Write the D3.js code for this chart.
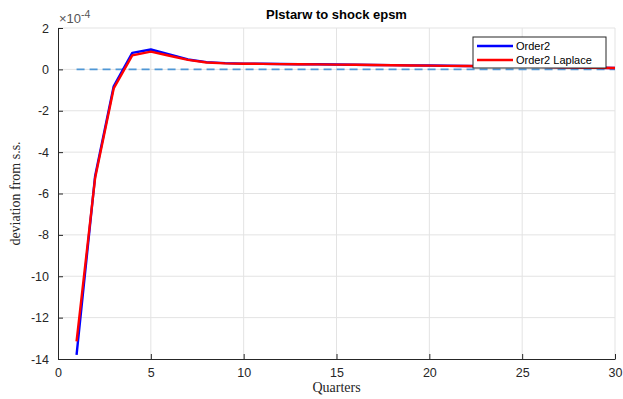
<!DOCTYPE html>
<html>
<head>
<meta charset="utf-8">
<script src="https://cdn.jsdelivr.net/npm/d3@7"></script>
<style>
  html, body { margin: 0; padding: 0; background: #fff; }
  svg { display: block; }
</style>
</head>
<body>
<svg id="chart" width="623" height="399"></svg>
<script>
// Impulse response of Plstarw to a shock in epsm (units of 1e-4)
const quarters = d3.range(1, 31);
const order2 = [-13.8, -5.15, -0.82, 0.80, 0.96, 0.72, 0.48, 0.35, 0.30, 0.28,
                0.27, 0.26, 0.25, 0.245, 0.235, 0.225, 0.215, 0.205, 0.195, 0.185,
                0.175, 0.165, 0.155, 0.145, 0.135, 0.12, 0.11, 0.095, 0.08, 0.07];
const order2Laplace = [-13.15, -5.25, -0.92, 0.68, 0.86, 0.66, 0.46, 0.33, 0.29, 0.275,
                       0.265, 0.255, 0.245, 0.24, 0.23, 0.22, 0.21, 0.20, 0.19, 0.18,
                       0.17, 0.16, 0.15, 0.14, 0.13, 0.12, 0.105, 0.09, 0.08, 0.07];
const xTicks = [0, 5, 10, 15, 20, 25, 30];
const yTicks = [-14, -12, -10, -8, -6, -4, -2, 0, 2];
const seriesNames = ["Order2", "Order2 Laplace"];
const seriesColors = ["#0000ff", "#ff0000"];

const svg = d3.select("#chart");
const m = { left: 58, right: 8, top: 28, bottom: 40 };
const W = 623, H = 399;

const x = d3.scaleLinear().domain([0, 30]).range([m.left, W - m.right]);
const y = d3.scaleLinear().domain([-14, 2]).range([H - m.bottom, m.top]);

const font = "'Liberation Sans', Arial, Helvetica, sans-serif";
const serif = "'Liberation Serif', 'DejaVu Serif', serif";

// grid
const grid = svg.append("g");
grid.selectAll("line.gx").data(xTicks.filter(d => d > 0)).join("line")
  .attr("x1", d => x(d)).attr("x2", d => x(d))
  .attr("y1", y(-14)).attr("y2", y(2))
  .attr("stroke", "#e3e3e3").attr("stroke-width", 1);
grid.selectAll("line.gy").data(yTicks.filter(d => d > -14)).join("line")
  .attr("x1", x(0)).attr("x2", x(30))
  .attr("y1", d => y(d)).attr("y2", d => y(d))
  .attr("stroke", "#e3e3e3").attr("stroke-width", 1);

// axes
const xAxis = d3.axisBottom(x).tickValues(xTicks).tickSize(-5).tickPadding(9).tickSizeOuter(0);
const yAxis = d3.axisLeft(y).tickValues(yTicks).tickSize(-5).tickPadding(9).tickSizeOuter(0);

const gx = svg.append("g").attr("transform", `translate(0,${y(-14)})`).call(xAxis);
const gy = svg.append("g").attr("transform", `translate(${x(0)},0)`).call(yAxis);
[gx, gy].forEach(g => {
  g.select(".domain").attr("stroke", "#262626").attr("stroke-width", 1);
  g.selectAll(".tick line").attr("stroke", "#262626");
  g.selectAll(".tick text").attr("fill", "#262626")
    .style("font-family", font).style("font-size", "12.5px");
});
gy.selectAll(".tick text").text(d => d < 0 ? "-" + Math.abs(d) : d);

// zero reference line
svg.append("line")
  .attr("x1", x(1)).attr("x2", x(30))
  .attr("y1", y(0)).attr("y2", y(0))
  .attr("stroke", "#4f97d6").attr("stroke-width", 1.6)
  .attr("stroke-dasharray", "8,5");

// series
const line = d3.line().x((d, i) => x(quarters[i])).y(d => y(d));
[order2, order2Laplace].forEach((s, k) => {
  svg.append("path").datum(s)
    .attr("d", line)
    .attr("fill", "none")
    .attr("stroke", seriesColors[k])
    .attr("stroke-width", 2.4)
    .attr("stroke-linejoin", "round");
});

// exponent label
const ex = svg.append("text").attr("x", x(0) + 1).attr("y", 23)
  .style("font-family", font).style("font-size", "13px").attr("fill", "#555");
ex.append("tspan").text("\u00d710");
ex.append("tspan").attr("dy", -5).style("font-size", "10.5px").text("-4");

// title
svg.append("text").attr("x", (x(0) + x(30)) / 2).attr("y", 19)
  .attr("text-anchor", "middle")
  .style("font-family", font).style("font-size", "13px").style("font-weight", "bold")
  .attr("fill", "#000").text("Plstarw to shock epsm");

// axis labels
svg.append("text").attr("x", (x(0) + x(30)) / 2).attr("y", 392)
  .attr("text-anchor", "middle")
  .style("font-family", serif).style("font-size", "14px").attr("fill", "#262626")
  .text("Quarters");
svg.append("text")
  .attr("transform", `translate(20,${(y(-14) + y(2)) / 2}) rotate(-90)`)
  .attr("text-anchor", "middle")
  .style("font-family", serif).style("font-size", "14px").attr("fill", "#262626")
  .text("deviation from s.s.");

// legend
const lg = svg.append("g").attr("transform", "translate(473,37)");
lg.append("rect").attr("width", 133).attr("height", 31)
  .attr("fill", "#fff").attr("stroke", "#262626").attr("stroke-width", 1);
seriesNames.forEach((n, i) => {
  const yy = 9 + i * 14;
  lg.append("line").attr("x1", 4).attr("x2", 40).attr("y1", yy).attr("y2", yy)
    .attr("stroke", seriesColors[i]).attr("stroke-width", 2.4);
  lg.append("text").attr("x", 43).attr("y", yy + 4)
    .style("font-family", font).style("font-size", "11px").attr("fill", "#000")
    .text(n);
});
</script>
</body>
</html>
